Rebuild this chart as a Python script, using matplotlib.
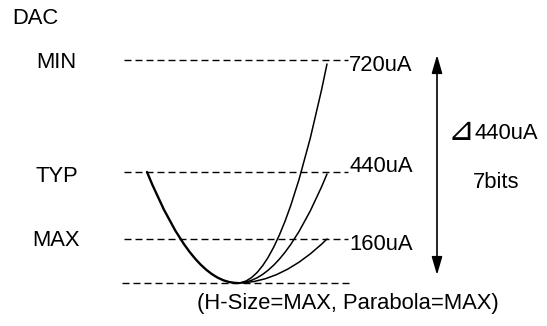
import matplotlib
matplotlib.use("Agg")
import matplotlib.pyplot as plt
from matplotlib.path import Path
import matplotlib.patches as patches

plt.rcParams['font.family'] = ['Liberation Sans', 'DejaVu Sans']

# diagram values (pixel rows / columns of the drawing)
levels = ['MIN', 'TYP', 'MAX']
currents = ['720uA', '440uA', '160uA']
level_y = [60, 172, 239]
curve_end_y = [64, 174, 239]
bottom_y = 283
vertex_x = 237.5
left_start = (147, 172)
right_end_x = 327
line_x = (124, 348)

FS = 15.8


def draw_parabola(ax, start, vertex, lw=1.0):
    # quadratic bezier: control point lies on the vertex tangent, half way
    ctrl = ((start[0] + vertex[0]) / 2, vertex[1])
    path = Path([start, ctrl, vertex], [Path.MOVETO, Path.CURVE3, Path.CURVE3])
    ax.add_patch(patches.PathPatch(path, fill=False, edgecolor='black', lw=lw,
                                   capstyle='round'))


fig = plt.figure(figsize=(5.47, 3.26), dpi=100)
ax = fig.add_axes([0, 0, 1, 1])
ax.set_xlim(0, 547)
ax.set_ylim(326, 0)
ax.axis('off')

dash_lw = 1.0
dash = (0, (7 * 0.72 / dash_lw, 4 * 0.72 / dash_lw))

for y in level_y:
    ax.plot(line_x, [y, y], color='black', lw=dash_lw, linestyle=dash)

ax.plot([122, 350], [bottom_y, bottom_y], color='black', lw=dash_lw, linestyle=dash)

# level names on the left
name_base = [68, 181.5, 246.5]
for name, yb in zip(levels, name_base):
    ax.text(56.5, yb, name, fontsize=FS, ha='center', va='baseline')

# current labels on the right
cur_base = [71, 172, 250]
for cur, yb in zip(currents, cur_base):
    ax.text(349, yb, cur, fontsize=FS, ha='left', va='baseline')

ax.text(12.5, 24, 'DAC', fontsize=FS, ha='left', va='baseline')

# parabola curves
vertex = (vertex_x, bottom_y)
draw_parabola(ax, left_start, vertex, lw=1.7)
for ye in curve_end_y:
    draw_parabola(ax, (right_end_x, ye), vertex, lw=1.1)

# range arrow
arrow = patches.FancyArrowPatch((437, 55), (437, 275), arrowstyle='<|-|>',
                                mutation_scale=20, color='black', lw=1.2,
                                shrinkA=0, shrinkB=0)
arrow.set_arrowstyle('<|-|>', head_length=0.55, head_width=0.16)
ax.add_patch(arrow)

tri = ax.text(448, 140, '\u22bf', fontsize=23, ha='left', va='baseline',
              family=['DejaVu Sans'])
fig.canvas.draw()
bb = tri.get_window_extent()
tri_right = ax.transData.inverted().transform((bb.x1, bb.y0))[0]
ax.text(tri_right, 139, '440uA', fontsize=FS, ha='left', va='baseline')
ax.text(473, 188, '7bits', fontsize=FS, ha='left', va='baseline')

ax.text(197, 309, '(H-Size=MAX, Parabola=MAX)', fontsize=FS, ha='left', va='baseline')

fig.savefig('out.png', dpi=100)
